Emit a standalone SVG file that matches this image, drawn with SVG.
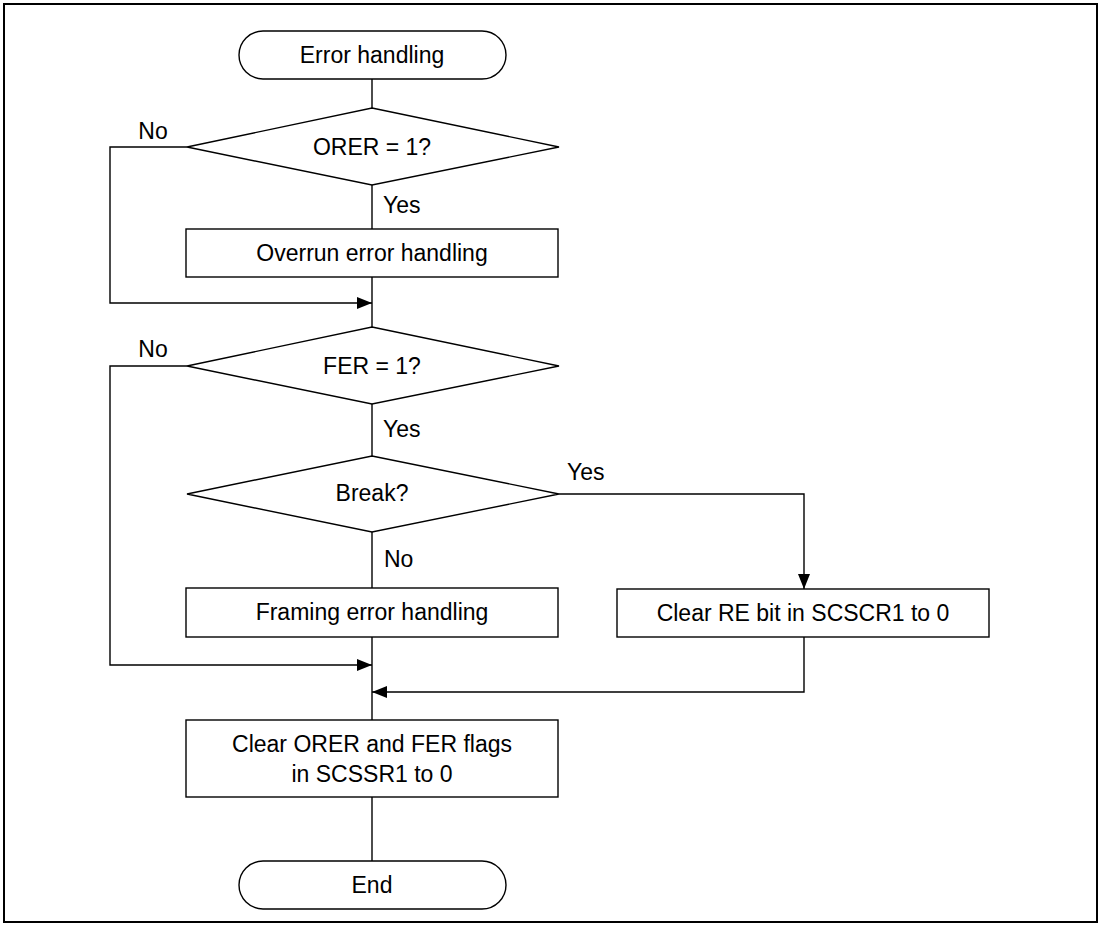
<svg xmlns="http://www.w3.org/2000/svg" width="1101" height="926" viewBox="0 0 1101 926">
<style>
.s{fill:#fff;stroke:#000;stroke-width:1.4}
.c{fill:none;stroke:#000;stroke-width:1.4}
.t{font-family:"Liberation Sans",Arial,sans-serif;font-size:23px;fill:#000}
.m{text-anchor:middle}
</style>
<defs>
<marker id="ah" markerUnits="userSpaceOnUse" markerWidth="16" markerHeight="14" refX="15" refY="6" orient="auto">
<path d="M0,0 L15,6 L0,12 Z" fill="#000"/>
</marker>
</defs>
<rect x="4" y="4" width="1093" height="918" fill="#fff" stroke="#000" stroke-width="2"/>
<g id="connectors">
<path class="c" d="M372,79 V108"/>
<path class="c" d="M372,185 V229"/>
<path class="c" d="M372,277 V327"/>
<path class="c" d="M187,147 H110 V303 H372" marker-end="url(#ah)"/>
<path class="c" d="M187,366 H110 V665 H372" marker-end="url(#ah)"/>
<path class="c" d="M372,404 V456"/>
<path class="c" d="M372,532 V588"/>
<path class="c" d="M559,494 H804 V589" marker-end="url(#ah)"/>
<path class="c" d="M372,637 V720"/>
<path class="c" d="M804,637 V692 H372" marker-end="url(#ah)"/>
<path class="c" d="M372,797 V861"/>
<text class="t" x="153" y="139" text-anchor="middle">No</text>
<text class="t" x="383" y="213">Yes</text>
<text class="t" x="153" y="357" text-anchor="middle">No</text>
<text class="t" x="383" y="437">Yes</text>
<text class="t" x="567" y="480">Yes</text>
<text class="t" x="384" y="567">No</text>
</g>
<g id="start">
<rect class="s" x="239" y="31" width="267" height="48" rx="24" ry="24"/>
<text class="t m" x="372" y="63">Error handling</text>
</g>
<g id="orer">
<polygon class="s" points="372,108 559,147 372,185 187,147"/>
<text class="t m" x="372" y="155">ORER = 1?</text>
</g>
<g id="overrun">
<rect class="s" x="186" y="229" width="372" height="48"/>
<text class="t m" x="372" y="261">Overrun error handling</text>
</g>
<g id="fer">
<polygon class="s" points="372,327 559,366 372,404 187,366"/>
<text class="t m" x="372" y="374">FER = 1?</text>
</g>
<g id="break">
<polygon class="s" points="372,456 559,494 372,532 187,494"/>
<text class="t m" x="372" y="501">Break?</text>
</g>
<g id="framing">
<rect class="s" x="186" y="588" width="372" height="49"/>
<text class="t m" x="372" y="620">Framing error handling</text>
</g>
<g id="clearre">
<rect class="s" x="617" y="589" width="372" height="48"/>
<text class="t m" x="803" y="621">Clear RE bit in SCSCR1 to 0</text>
</g>
<g id="clearflags">
<rect class="s" x="186" y="720" width="372" height="77"/>
<text class="t m" x="372" y="752">Clear ORER and FER flags</text>
<text class="t m" x="372" y="782">in SCSSR1 to 0</text>
</g>
<g id="end">
<rect class="s" x="239" y="861" width="267" height="48" rx="24" ry="24"/>
<text class="t m" x="372" y="893">End</text>
</g>
</svg>
